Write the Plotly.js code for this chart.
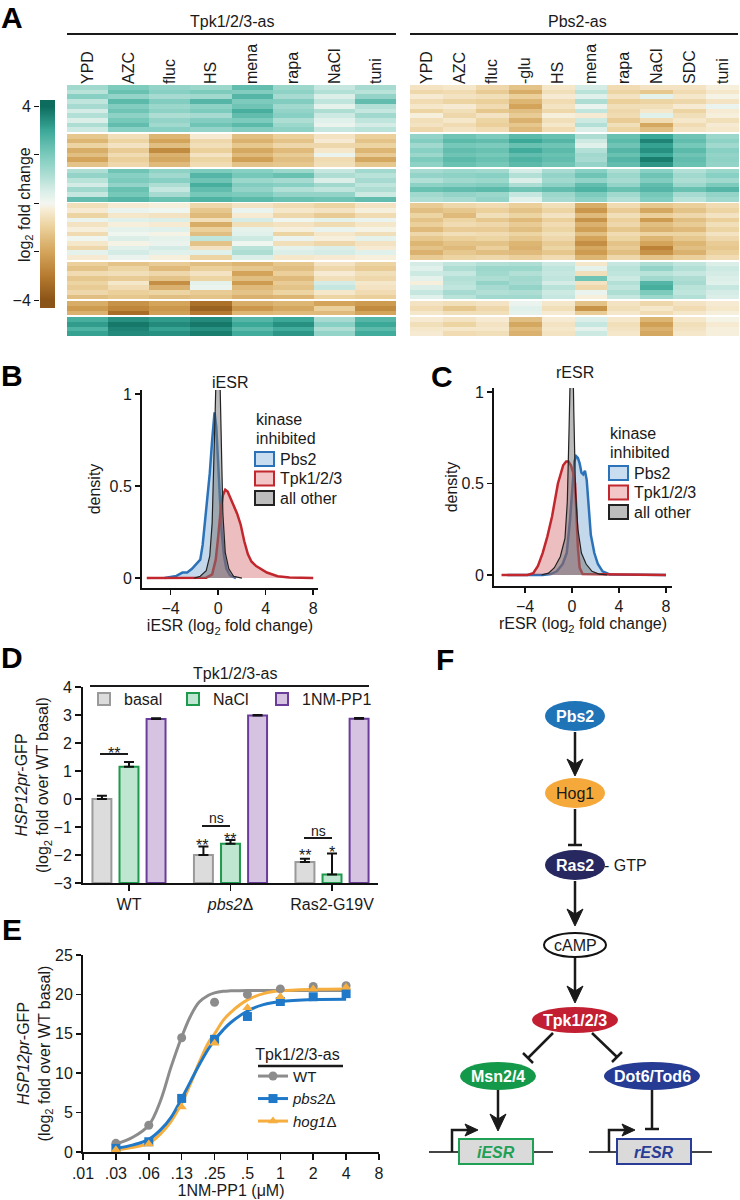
<!DOCTYPE html>
<html><head><meta charset="utf-8">
<script src="https://cdn.plot.ly/plotly-3.0.1.min.js"></script>
<style>html,body{margin:0;padding:0;background:#fff}</style>
</head><body><div id="chart" style="width:740px;height:1200px"></div>
<script>
const W = 740, H = 1200;
const FONT = 'Arial, "Liberation Sans", Helvetica, sans-serif';
const INK = '#1a1a1a';

// ---------------- Panel A : heatmaps ----------------
const tpkConditions = ['YPD','AZC','fluc','HS','mena','rapa','NaCl','tuni'];
const pbsConditions = ['YPD','AZC','fluc','-glu','HS','mena','rapa','NaCl','SDC','tuni'];

const tpkCluster1 = [
 [1.4,2.0,1.6,1.5,2.4,1.5,0.8,1.3],[1.0,2.3,1.8,2.0,1.9,1.7,1.1,1.0],[1.8,1.6,1.3,1.4,2.6,1.3,0.5,1.6],
 [0.9,2.5,1.9,2.6,2.0,1.9,0.9,2.4],[1.3,1.9,1.5,1.7,2.2,1.4,0.3,1.1],[0.6,2.2,1.7,2.0,2.8,1.6,1.2,0.8],
 [1.1,1.7,1.2,1.3,2.4,1.8,0.7,1.4],[0.5,2.1,1.6,1.9,2.0,1.2,0.4,0.9],[1.2,2.4,1.4,2.2,2.5,1.5,0.2,0.6],
 [0.7,1.8,1.8,1.6,1.9,1.7,0.8,1.0]];
const tpkCluster2 = [
 [-1.2,-0.6,-1.6,-0.3,-1.4,-1.0,-0.5,-1.0],[-1.6,-0.9,-2.0,-0.8,-1.7,-1.3,-0.3,-1.3],[-0.9,-0.5,-1.4,-0.6,-1.2,-0.8,-0.8,-0.9],
 [-1.8,-1.1,-2.6,-1.0,-1.9,-1.5,-0.4,-1.6],[-1.4,-0.7,-1.7,-0.5,-1.5,-1.1,0.2,-1.1],[-2.0,-1.0,-1.9,-0.9,-2.1,-1.4,-0.7,-1.9],
 [-1.3,-0.8,-1.5,-0.7,-1.3,-1.2,-0.6,-1.2]];
const tpkCluster3 = [
 [1.2,2.2,1.7,2.0,1.8,1.5,0.8,1.4],[1.6,1.8,1.4,2.6,2.1,2.3,1.2,1.0],[1.0,2.0,1.8,2.2,1.5,1.3,0.5,1.3],
 [0.6,1.6,1.2,2.8,1.9,1.8,1.4,0.9],[1.4,2.3,0.8,2.4,1.6,1.1,0.9,1.2],[0.8,2.1,1.3,2.1,2.0,1.6,1.6,0.7],
 [2.4,2.6,2.3,2.7,2.5,2.3,2.2,2.4]];
const tpkCluster4 = [
 [-0.6,-0.3,-0.2,-0.8,-0.5,-0.7,-0.9,-0.5],[-0.3,0.2,0.1,-1.2,0.2,-0.4,-0.5,-0.2],[-0.9,-0.4,-0.5,-1.5,-0.3,-0.8,-1.1,-0.7],
 [0.2,0.4,0.5,-0.6,0.6,0.1,0.3,0.2],[-0.5,-0.2,-0.3,-1.8,-0.6,-0.5,-0.7,-0.4],[-0.2,0.3,0.4,-1.0,0.3,-0.2,0.2,-0.1],
 [-0.7,0.1,-0.1,-1.4,0.4,-0.9,-0.4,-0.6],[0.1,0.5,0.3,0.9,0.7,0.2,-0.2,0.3],[-0.4,-0.1,0.2,-1.3,0.1,-0.6,-0.8,-0.5],
 [-0.8,0.4,0.6,-0.5,1.0,0.3,0.5,-0.3],[0.3,0.6,0.4,0.4,1.2,0.5,0.6,0.4],[-0.3,0.2,-0.2,-0.9,0.5,-0.4,-0.3,-0.2]];
const tpkCluster5 = [
 [-1.0,-1.3,-1.1,-1.4,-1.6,-1.2,-0.5,-0.9],[-1.3,-0.9,-1.5,-1.0,-1.2,-1.4,-0.8,-1.1],[-0.7,-0.6,-0.8,-0.5,-2.0,-1.0,-0.3,-0.6],
 [-1.2,-1.1,-1.3,-0.9,-1.4,-1.5,-0.6,-0.8],[-0.9,-0.4,-2.5,0.3,-2.2,-1.1,0.6,-0.4],[-1.1,-0.7,-1.7,0.2,-1.5,-1.3,0.8,-0.5],
 [-0.8,-1.0,-0.9,-1.1,-1.3,-0.9,-0.4,-0.7],[-1.4,-1.2,-1.4,-1.3,-1.7,-1.6,-0.9,-1.0]];
const tpkCluster6 = [
 [-1.8,-2.4,-2.0,-3.2,-1.8,-1.6,-2.0,-2.2],[-2.2,-2.7,-2.3,-3.6,-2.3,-1.9,-1.0,-2.6],[-1.7,-3.3,-2.1,-3.0,-1.6,-1.5,-1.5,-2.0]];
const tpkCluster7 = [
 [2.8,3.4,3.2,3.5,2.6,3.0,1.3,2.6],[3.2,3.8,3.5,3.8,3.0,3.4,1.8,3.0],[2.7,3.6,3.1,3.4,2.5,2.9,1.2,2.5],[3.1,3.5,3.4,3.7,2.9,3.3,1.6,2.9]];

const pbsCluster1 = [
 [-0.5,-0.4,-0.8,-1.3,-0.4,0.6,-0.7,-0.5,-0.5,-0.2],[-0.8,-0.7,-1.1,-1.8,-0.6,1.0,-0.9,-1.2,-0.7,-0.4],
 [-0.3,-0.5,-0.6,-1.0,-0.3,0.4,-0.5,0.3,-0.4,-0.1],[-0.7,-0.9,-1.0,-1.6,-0.7,1.2,-1.0,-0.9,-0.8,-0.5],
 [-0.4,-0.3,-0.7,-2.0,-0.5,0.2,-0.6,-0.6,-0.3,0.2],[-0.9,-0.6,-1.2,-1.4,-0.8,0.9,-0.8,-0.4,-0.9,-0.3],
 [-0.2,-0.8,-0.5,-1.1,-0.2,-0.3,-0.7,0.4,-0.6,-0.2],[-0.6,-0.4,-0.9,-1.7,-0.6,0.7,-1.1,-0.7,-0.4,-0.6],
 [-0.5,-0.7,-1.0,-1.2,-0.4,1.1,-0.6,-1.9,-0.7,-0.3],[-0.8,-0.5,-0.7,-1.5,-0.7,0.5,-0.9,-1.4,-0.5,-0.4]];
const pbsCluster2 = [
 [1.6,2.2,2.0,2.5,2.3,1.2,2.3,3.0,2.2,1.5],[1.9,2.5,2.4,3.0,2.6,0.7,2.5,3.6,2.4,1.7],[1.4,2.1,2.0,2.3,2.2,0.4,2.2,3.1,2.1,1.4],
 [1.8,2.4,2.3,2.9,2.5,1.1,2.6,3.4,2.5,1.8],[1.5,2.2,2.1,2.4,2.3,1.4,2.3,3.0,2.2,1.6],[2.0,2.5,2.3,2.7,2.4,1.3,2.6,3.7,2.4,1.7],
 [1.7,2.3,2.1,2.5,2.2,1.6,2.4,3.3,2.3,1.6]];
const pbsCluster3 = [
 [1.3,1.5,1.4,0.6,1.3,1.8,1.2,1.8,1.1,1.5],[1.6,1.7,1.8,1.1,1.6,2.2,1.5,2.2,1.4,1.8],[1.1,1.4,1.5,0.5,1.4,1.6,1.3,1.9,1.2,1.4],
 [1.7,1.8,1.9,1.2,1.7,2.4,1.6,2.4,1.5,2.0],[2.3,2.4,2.5,2.2,2.4,2.7,2.3,2.6,2.3,2.6],[1.4,1.6,1.5,0.8,1.5,2.0,1.4,2.1,1.3,1.6],
 [1.2,1.3,1.6,0.4,1.3,1.7,1.1,1.9,1.0,1.4]];
const pbsCluster4 = [
 [-1.1,-0.8,-0.7,-1.0,-0.6,-1.8,-0.7,-1.2,-1.0,-0.7],[-1.4,-1.2,-1.0,-1.3,-0.9,-2.3,-1.1,-1.9,-1.3,-0.9],
 [-0.9,-1.5,-0.6,-0.9,-0.5,-1.5,-0.6,-1.0,-0.8,-0.5],[-1.3,-0.9,-1.2,-1.5,-1.0,-2.4,-1.0,-2.2,-1.4,-1.0],
 [-1.0,-0.7,-0.8,-1.1,-0.7,-1.7,-0.8,-1.4,-1.1,-0.6],[-1.5,-1.1,-1.1,-1.4,-0.9,-2.1,-1.2,-1.7,-1.5,-0.9],
 [-0.8,-0.6,-0.7,-0.9,-0.6,-1.4,-0.7,-0.9,-0.9,-0.5],[-1.2,-1.0,-0.9,-1.2,-0.8,-2.0,-0.9,-1.6,-1.2,-0.8],
 [-1.6,-1.3,-1.3,-1.6,-1.1,-2.5,-1.3,-2.0,-1.6,-1.1],[-1.3,-1.5,-1.0,-1.7,-0.9,-1.9,-1.1,-2.8,-1.4,-1.2],
 [-1.7,-1.2,-1.4,-1.5,-1.2,-2.2,-1.4,-2.4,-1.7,-1.0],[-1.1,-0.9,-0.8,-1.0,-0.7,-1.6,-0.8,-1.3,-1.0,-0.7]];
const pbsCluster5 = [
 [0.6,0.9,1.1,1.2,0.7,-0.4,0.8,1.2,0.9,0.5],[0.4,1.2,1.5,1.5,0.9,0.3,1.0,1.6,1.1,0.7],[0.7,0.8,1.4,1.1,0.8,-0.6,0.9,1.0,0.8,0.6],
 [0.3,1.1,1.2,1.4,0.9,2.2,0.7,1.4,1.2,0.5],[-0.2,1.0,1.6,1.3,0.6,-0.5,1.1,2.6,1.3,0.4],[0.5,0.9,1.3,1.6,1.0,-0.8,0.9,2.8,1.0,0.8],
 [0.8,1.3,1.1,1.2,0.7,0.2,1.2,2.0,0.9,0.6],[0.4,1.0,1.4,1.4,0.8,-0.2,0.8,1.5,1.1,0.5]];
const pbsCluster6 = [
 [-0.5,-0.6,-0.5,0.2,-0.4,-1.3,-0.5,-0.8,-0.5,-0.3],[-0.7,-1.2,-0.8,0.4,-0.6,-2.4,-0.6,-0.4,-0.7,-0.4],[-0.4,-0.6,-0.6,0.3,-0.3,-1.1,-0.4,-0.7,-0.4,-0.2]];
const pbsCluster7 = [
 [-0.3,-0.5,-0.3,-1.4,-0.3,0.5,-0.4,-1.6,-0.4,-0.1],[-0.6,-0.9,-0.5,-1.9,-0.5,0.8,-0.6,-2.1,-0.6,-0.3],
 [-0.4,-0.4,-0.4,-1.5,-0.4,0.3,-0.5,-1.7,-0.5,-0.2],[-0.3,-0.7,-0.6,-1.7,-0.5,0.7,-0.4,-1.9,-0.4,-0.2]];

const colorbarLevels = [-4.35,-4,-3.5,-3,-2.5,-2,-1.5,-1,-0.5,0,0.5,1,1.5,2,2.5,3,3.5,4,4.3];
const colorbarLabelTicks = [-4,4];

// ---------------- Panels B & C : densities ----------------
const iesrPbs2X = [-4.5,-4,-3.5,-3,-2.6,-2.2,-1.8,-1.5,-1.3,-1.1,-0.9,-0.7,-0.5,-0.3,-0.15,0,0.15,0.3,0.5,0.7,1,1.5];
const iesrPbs2Y = [0,0.004,0.012,0.03,0.03,0.05,0.08,0.1,0.18,0.3,0.42,0.57,0.75,0.9,0.82,0.6,0.42,0.25,0.12,0.05,0.015,0];
const iesrTpkX = [-6,-1,-0.5,-0.2,0,0.2,0.4,0.6,0.8,1.0,1.3,1.6,1.9,2.2,2.5,2.8,3.2,3.6,4.1,5,6,8];
const iesrTpkY = [0,0.002,0.02,0.1,0.22,0.36,0.45,0.48,0.47,0.44,0.4,0.35,0.29,0.2,0.13,0.09,0.065,0.05,0.03,0.01,0.003,0];
const iesrOtherX = [-2,-1.5,-1,-0.7,-0.5,-0.35,-0.25,-0.15,0,0.15,0.25,0.4,0.6,0.9,1.3,2];
const iesrOtherY = [0,0.01,0.04,0.12,0.3,0.6,0.9,1.15,1.3,1.1,0.7,0.35,0.14,0.05,0.01,0];

const resrPbs2X = [-5.5,-2.5,-1.8,-1.3,-0.8,-0.45,-0.17,0.03,0.2,0.35,0.5,0.65,0.8,0.95,1.1,1.25,1.4,1.6,1.9,2.2,2.6,3.2,8];
const resrPbs2Y = [0,0,0.005,0.02,0.06,0.12,0.3,0.5,0.62,0.65,0.64,0.61,0.56,0.55,0.57,0.52,0.38,0.22,0.12,0.06,0.02,0.003,0];
const resrTpkX = [-6,-3.8,-3.3,-2.9,-2.5,-2.1,-1.7,-1.2,-0.75,-0.5,-0.3,-0.1,0.1,0.26,0.38,0.5,0.65,0.9,8];
const resrTpkY = [0,0,0.01,0.05,0.12,0.21,0.32,0.5,0.6,0.62,0.62,0.6,0.56,0.5,0.33,0.15,0.04,0.005,0];
const resrOtherX = [-2.6,-2,-1.5,-1,-0.6,-0.4,-0.25,-0.15,-0.05,0.05,0.15,0.3,0.5,0.8,1.2,1.7,2.3,3];
const resrOtherY = [0,0.01,0.04,0.1,0.2,0.4,0.8,1.2,1.4,1.3,0.9,0.45,0.25,0.12,0.06,0.02,0.005,0];
const densityXTicks = [-4,0,4,8];
const densityYTicks = [0,0.5,1];
const densityYTickText = ['0','0.5','1'];

// ---------------- Panel D : bars ----------------
const strains = ['WT','<i>pbs2</i>Δ','Ras2-G19V'];
const basalVals = [0.0,-2.0,-2.25];
const basalErr  = [0.12,0.3,0.12];
const naclVals  = [1.15,-1.6,-2.7];
const naclErr   = [0.17,0.14,0.75];
const nmppVals  = [2.86,2.98,2.87];
const nmppErr   = [0.02,0.02,0.02];
const barBase = -3;

// ---------------- Panel E : dose response ----------------
const doses = [0.03125,0.0625,0.125,0.25,0.5,1,2,4];
const wtGFP   = [1.1,3.4,14.5,19.0,20.0,20.7,21.0,21.1];
const pbs2GFP = [0.45,1.3,6.8,14.3,17.2,19.1,19.7,20.1];
const hog1GFP = [0.3,1.0,5.7,13.8,18.3,19.7,20.7,20.9];
const fitDoses = [0.03125,0.045,0.0625,0.08,0.1,0.125,0.15,0.18,0.22,0.25,0.3,0.35,0.5,0.7,1,2,4];
const wtFit   = [1.0,1.9,3.4,6.5,10.8,14.6,17.2,19.0,19.9,20.2,20.4,20.45,20.5,20.5,20.5,20.5,20.5];
const pbs2Fit = [0.45,0.9,1.6,2.8,4.4,6.8,8.9,11.0,13.1,14.2,15.5,16.4,17.9,18.7,19.1,19.35,19.4];
const hog1Fit = [0.25,0.6,1.1,2.3,3.9,6.2,8.6,11.3,13.9,15.0,16.7,17.7,19.3,20.1,20.45,20.65,20.7];
const doseTicks = [0.015625,0.03125,0.0625,0.125,0.25,0.5,1,2,4,8];
const doseTickText = ['.01','.03','.06','.13','.25','.5','1','2','4','8'];

// ---------------- helpers ----------------
const X = (a,b)=>[a/W,b/W];
const Y = (t,b)=>[1-b/H,1-t/H];
const GAP = 0.4;
function stackClusters(clusters){
  const z=[], edges=[0]; let y=0;
  clusters.forEach((c,i)=>{
    if(i>0){ z.push(c[0].map(()=>null)); y+=GAP; edges.push(y); }
    c.forEach(r=>{ z.push(r); y+=1; edges.push(y); });
  });
  return {z,edges,total:y};
}
const L = stackClusters([tpkCluster1,tpkCluster2,tpkCluster3,tpkCluster4,tpkCluster5,tpkCluster6,tpkCluster7]);
const R = stackClusters([pbsCluster1,pbsCluster2,pbsCluster3,pbsCluster4,pbsCluster5,pbsCluster6,pbsCluster7]);

const cscale = [[0,'#8a5317'],[0.125,'#b57a2f'],[0.25,'#d3a45a'],[0.375,'#ebd09b'],[0.46,'#f6ead0'],[0.5,'#f4f6f0'],
  [0.56,'#dcefe9'],[0.625,'#b9e2d9'],[0.75,'#7ccbbd'],[0.875,'#3ba898'],[1,'#0c6c5d']];

const BLUE='#2b72b8', RED='#c1272d';
function dens(x,y,lc,fc,w,ax){
  return {type:'scatter',mode:'lines',x,y,xaxis:'x'+ax,yaxis:'y'+ax,fill:'tozeroy',fillcolor:fc,
    line:{color:lc,width:w},showlegend:false,hoverinfo:'skip'};
}
function interleave(a){ const o=[]; a.forEach((v,i)=>{ if(i) o.push(null); o.push(v); }); return o; }

const traces = [
  {type:'heatmap',x:tpkConditions,y:L.edges,z:L.z,xaxis:'x',yaxis:'y',colorscale:cscale,zmin:-4,zmax:4,showscale:false,hoverinfo:'skip'},
  {type:'heatmap',x:pbsConditions,y:R.edges,z:R.z,xaxis:'x2',yaxis:'y2',colorscale:cscale,zmin:-4,zmax:4,showscale:false,hoverinfo:'skip'},
  {type:'heatmap',x:['scale'],y:colorbarLevels,z:colorbarLevels.map(v=>[v]),xaxis:'x3',yaxis:'y3',colorscale:cscale,zmin:-4,zmax:4,zsmooth:'best',showscale:false,hoverinfo:'skip'},

  dens(iesrPbs2X,iesrPbs2Y,BLUE,'rgba(43,114,184,0.28)',2.5,4),
  dens(iesrTpkX,iesrTpkY,RED,'rgba(193,39,45,0.30)',2.5,4),
  dens(iesrOtherX,iesrOtherY,'#222','rgba(120,120,120,0.5)',1.2,4),
  dens(resrPbs2X,resrPbs2Y,BLUE,'rgba(43,114,184,0.28)',2.5,5),
  dens(resrTpkX,resrTpkY,RED,'rgba(193,39,45,0.30)',2.5,5),
  dens(resrOtherX,resrOtherY,'#222','rgba(120,120,120,0.5)',1.2,5),

  {type:'bar',name:'basal',x:strains,y:basalVals.map(v=>v-barBase),base:barBase,xaxis:'x6',yaxis:'y6',legend:'legend',
   marker:{color:'#dcdcdc',line:{color:'#9a9a9a',width:2}},
   error_y:{type:'data',array:basalErr,arrayminus:basalErr.map(()=>0),symmetric:false,color:'#111',thickness:2,width:5},hoverinfo:'skip'},
  {type:'bar',name:'NaCl',x:strains,y:naclVals.map(v=>v-barBase),base:barBase,xaxis:'x6',yaxis:'y6',legend:'legend',
   marker:{color:'#bfe6d0',line:{color:'#1e9a4c',width:2}},
   error_y:{type:'data',array:naclErr,arrayminus:naclErr.map(()=>0),symmetric:false,color:'#111',thickness:2,width:5},hoverinfo:'skip'},
  {type:'bar',name:'1NM-PP1',x:strains,y:nmppVals.map(v=>v-barBase),base:barBase,xaxis:'x6',yaxis:'y6',legend:'legend',legendwidth:90,
   marker:{color:'#d6c3e2',line:{color:'#6a3d9a',width:2}},
   error_y:{type:'data',array:nmppErr,arrayminus:nmppErr.map(()=>0),symmetric:false,color:'#111',thickness:2,width:5},hoverinfo:'skip'},

  {type:'scatter',mode:'lines',x:fitDoses,y:wtFit,xaxis:'x7',yaxis:'y7',line:{color:'#8c8c8c',width:3,shape:'spline'},showlegend:false,hoverinfo:'skip'},
  {type:'scatter',mode:'lines',x:fitDoses,y:hog1Fit,xaxis:'x7',yaxis:'y7',line:{color:'#f6ae3f',width:3,shape:'spline'},showlegend:false,hoverinfo:'skip'},
  {type:'scatter',mode:'lines',x:fitDoses,y:pbs2Fit,xaxis:'x7',yaxis:'y7',line:{color:'#1f78c8',width:3,shape:'spline'},showlegend:false,hoverinfo:'skip'},
  {type:'scatter',mode:'lines+markers',name:'WT',x:interleave(doses),y:interleave(wtGFP),xaxis:'x7',yaxis:'y7',legend:'legend2',
   line:{color:'#8c8c8c',width:3},marker:{symbol:'circle',size:9,color:'#8c8c8c'},hoverinfo:'skip'},
  {type:'scatter',mode:'lines+markers',name:'<i>pbs2</i>Δ',x:interleave(doses),y:interleave(pbs2GFP),xaxis:'x7',yaxis:'y7',legend:'legend2',
   line:{color:'#1f78c8',width:3},marker:{symbol:'square',size:9,color:'#1f78c8'},hoverinfo:'skip'},
  {type:'scatter',mode:'lines+markers',name:'<i>hog1</i>Δ',x:interleave(doses),y:interleave(hog1GFP),xaxis:'x7',yaxis:'y7',legend:'legend2',
   line:{color:'#f6ae3f',width:3},marker:{symbol:'triangle-up',size:9,color:'#f6ae3f'},hoverinfo:'skip'},

  {type:'scatter',x:[],y:[],xaxis:'x8',yaxis:'y8',showlegend:false,hoverinfo:'skip'}
];

// ---------------- annotations & shapes (pixel canvas axis x8/y8) ----------------
const ann = [];
function T(x,y,text,o={}){ const f=Object.assign({size:16,color:INK,family:FONT},o.font||{}); delete o.font;
  ann.push(Object.assign({xref:'x8',yref:'y8',x,y,text,showarrow:false,xanchor:'center',yanchor:'middle',font:f},o)); }
const shp = [];
function LN(x0,y0,x1,y1,w=2,c=INK){ shp.push({type:'line',xref:'x8',yref:'y8',x0,y0,x1,y1,line:{color:c,width:w}}); }
function RC(x0,y0,x1,y1,fill,lc,w=2){ shp.push({type:'rect',xref:'x8',yref:'y8',x0,y0,x1,y1,fillcolor:fill,line:{color:lc,width:w}}); }
function EL(cx,cy,rx,ry,fill,lc,w=0){ shp.push({type:'circle',xref:'x8',yref:'y8',x0:cx-rx,x1:cx+rx,y0:cy-ry,y1:cy+ry,fillcolor:fill,line:{color:lc||fill,width:w}}); }
function PATH(d,fill,lc,w){ shp.push({type:'path',xref:'x8',yref:'y8',path:d,fillcolor:fill,line:{color:lc,width:w}}); }
function arrowDown(x,y0,tip){ LN(x,y0,x,tip-8,2.5); PATH(`M${x},${tip} L${x-8},${tip-17} L${x},${tip-12} L${x+8},${tip-17} Z`,INK,INK,1); }
function arrowRight(x0,y,tip){ PATH(`M${tip},${y} L${tip-13},${y-6} L${tip-10},${y} L${tip-13},${y+6} Z`,INK,INK,1); }

// panel letters
[['A',12,17],['B',12,375],['C',442,376],['D',12,657],['E',12,929],['F',445,659]].forEach(a=>T(a[1],a[2],'<b>'+a[0]+'</b>',{font:{size:30,color:'#000'}}));

// Panel A headers + colour-scale title
T(232,21,'Tpk1/2/3-as'); LN(67,34,396,34,2);
T(577,21,'Pbs2-as'); LN(410,34,738,34,2);
T(25,205,'log<sub>2</sub> fold change',{textangle:-90});

// B, C titles & manual legends
T(230,382,'iESR'); T(575,372,'rESR');
function densLegend(x,y0){
  T(x,y0,'kinase',{xanchor:'left'}); T(x,y0+19,'inhibited',{xanchor:'left'});
  const items=[['Pbs2','#c9ddf0',BLUE],['Tpk1/2/3','#f3c6c8',RED],['all other','#bdbdbd','#222']];
  items.forEach((it,i)=>{ const yc=y0+40+i*19.5; RC(x+1,yc-7,x+20,yc+7,it[1],it[2],2); T(x+24,yc,it[0],{xanchor:'left'}); });
}
densLegend(254,419); densLegend(608,433);

// Panel D extras
T(235,673,'Tpk1/2/3-as'); LN(90,686,369,686,2);
LN(100,754,128,754,2); T(114,753,'**');
LN(202,826,230,826,2); T(216,818,'ns',{font:{size:14}}); T(202,845,'**'); T(230,839,'**');
LN(304,838,332,838,2); T(318,831,'ns',{font:{size:14}}); T(305,855,'**'); T(332,852,'*');

// Panel E legend title rule
LN(258,1066,343,1066,2.5);

// Panel F diagram
EL(575,716,30,15,'#1f73b7');  T(575,716,'<b>Pbs2</b>',{font:{color:'#fff'}});
arrowDown(575,732,776);
EL(575,793,30,15,'#f6a93b');  T(575,793,'Hog1');
LN(575,809,575,845,2.5); LN(568,845,582,845,2.5);
EL(575,865,30,15,'#27285f');  T(575,865,'<b>Ras2</b>',{font:{color:'#fff'}});
T(602,865,'- GTP',{xanchor:'left'});
arrowDown(575,881,926);
EL(575,945,31,12,'#ffffff','#111',2); T(575,945,'cAMP');
arrowDown(575,958,1003);
EL(575,1020,43,13,'#c21f32'); T(575,1020,'<b>Tpk1/2/3</b>',{font:{color:'#fff'}});
LN(553,1033,528,1058,2.5); LN(523,1053,533,1063,2.5);
LN(592,1033,617,1057,2.5); LN(612,1062,622,1052,2.5);
EL(498,1076,38,14,'#14994a'); T(498,1076,'<b>Msn2/4</b>',{font:{color:'#fff'}});
EL(652,1076,48,14,'#263b93'); T(652,1076,'<b>Dot6/Tod6</b>',{font:{color:'#fff'}});
arrowDown(498,1090,1131);
LN(652,1090,652,1129,2.5); LN(645,1129,659,1129,2.5);
// genes
LN(429,1152,553,1152,2,'#444'); RC(459,1139,533,1164,'#dadada','#1fa055',2);
T(496,1152,'<b><i>iESR</i></b>',{font:{color:'#1fa055'}});
PATH('M452,1152 L452,1130 L468,1130','rgba(0,0,0,0)',INK,2.5); arrowRight(452,1130,478);
LN(589,1152,712,1152,2,'#444'); RC(617,1139,691,1164,'#dadada','#2a3d96',2);
T(654,1152,'<b><i>rESR</i></b>',{font:{color:'#2a3d96'}});
PATH('M609,1152 L609,1130 L625,1130','rgba(0,0,0,0)',INK,2.5); arrowRight(609,1130,635);

// ---------------- layout ----------------
const axLine = {showline:true,linewidth:2,linecolor:'#111',ticks:'outside',ticklen:5,tickwidth:1.5,tickcolor:'#111',
  showgrid:false,zeroline:false,tickfont:{size:16,color:INK},fixedrange:true};
const hidden = {visible:false,fixedrange:true};
const hmX = {side:'top',tickangle:-90,ticks:'',showline:false,showgrid:false,zeroline:false,tickfont:{size:16,color:INK},fixedrange:true};

const layout = {
  width:W,height:H,margin:{l:0,r:0,t:0,b:0,pad:0},
  paper_bgcolor:'#ffffff',plot_bgcolor:'rgba(0,0,0,0)',
  font:{family:FONT,size:16,color:INK},
  xaxis:Object.assign({},hmX,{domain:X(67,396),anchor:'y'}),
  yaxis:Object.assign({},hidden,{domain:Y(85,336),anchor:'x',range:[L.total,0]}),
  xaxis2:Object.assign({},hmX,{domain:X(410,739),anchor:'y2'}),
  yaxis2:Object.assign({},hidden,{domain:Y(85,336),anchor:'x2',range:[R.total,0]}),
  xaxis3:Object.assign({},hidden,{domain:X(40,55),anchor:'y3'}),
  yaxis3:{domain:Y(100,308),anchor:'x3',range:[-4.33,4.25],tickvals:colorbarLabelTicks,
    ticks:'outside',ticklen:5,tickcolor:'#111',showline:false,showgrid:false,zeroline:false,tickfont:{size:16,color:INK},
    minor:{dtick:2,tick0:0,ticks:'outside',ticklen:5,tickcolor:'#111',showgrid:false},fixedrange:true},

  xaxis4:Object.assign({},axLine,{domain:X(142,318),anchor:'y4',range:[-6.4,8.4],tickvals:densityXTicks,
    title:{text:'iESR (log<sub>2</sub> fold change)',font:{size:16},standoff:0}}),
  yaxis4:Object.assign({},axLine,{domain:Y(390,588),anchor:'x4',range:[-0.054,1.022],tickvals:densityYTicks,ticktext:densityYTickText,
    title:{text:'density',font:{size:16},standoff:5}}),
  xaxis5:Object.assign({},axLine,{domain:X(494,672),anchor:'y5',range:[-6.64,8.51],tickvals:densityXTicks,
    title:{text:'rESR (log<sub>2</sub> fold change)',font:{size:16},standoff:0}}),
  yaxis5:Object.assign({},axLine,{domain:Y(388,586),anchor:'x5',range:[-0.06,1.022],tickvals:densityYTicks,ticktext:densityYTickText,
    title:{text:'density',font:{size:16},standoff:0}}),

  xaxis6:Object.assign({},axLine,{domain:X(83,378),anchor:'y6',type:'category',range:[-0.453,2.453],ticklen:6}),
  yaxis6:Object.assign({},axLine,{domain:Y(687,883),anchor:'x6',range:[-3,4],dtick:1,tick0:0,ticklen:6,
    title:{text:'<i>HSP12pr</i>-GFP<br>(log<sub>2</sub> fold over WT basal)',font:{size:16},standoff:0}}),
  barmode:'group',bargap:0.2,bargroupgap:0.3,

  xaxis7:Object.assign({},axLine,{domain:X(83,379),anchor:'y7',type:'log',range:[Math.log10(doseTicks[0]),Math.log10(doseTicks[doseTicks.length-1])],
    tickvals:doseTicks,ticktext:doseTickText,ticklen:6,title:{text:'1NM-PP1 (μM)',font:{size:16},standoff:2}}),
  yaxis7:Object.assign({},axLine,{domain:Y(955,1152),anchor:'x7',range:[0,25],dtick:5,ticklen:5,
    title:{text:'<i>HSP12pr</i>-GFP<br>(log<sub>2</sub> fold over WT basal)',font:{size:16},standoff:0}}),

  xaxis8:Object.assign({},hidden,{domain:[0,1],anchor:'y8',range:[0,W]}),
  yaxis8:Object.assign({},hidden,{domain:[0,1],anchor:'x8',range:[H,0]}),

  legend:{orientation:'h',x:84/W,xanchor:'left',y:1-699/H,yanchor:'middle',entrywidth:44,entrywidthmode:'pixels',
    font:{size:16,color:INK},bgcolor:'rgba(0,0,0,0)',borderwidth:0,itemclick:false,itemdoubleclick:false},
  legend2:{x:253/W,xanchor:'left',y:1-1039/H,yanchor:'top',font:{size:15,color:INK},bgcolor:'rgba(0,0,0,0)',borderwidth:0,
    title:{text:'Tpk1/2/3-as',side:'top center',font:{size:16,color:INK}},tracegroupgap:0,itemclick:false,itemdoubleclick:false},
  showlegend:true,
  annotations:ann,
  shapes:shp,
  hovermode:false
};

Plotly.newPlot('chart',traces,layout,{staticPlot:true,displayModeBar:false});
</script></body></html>
